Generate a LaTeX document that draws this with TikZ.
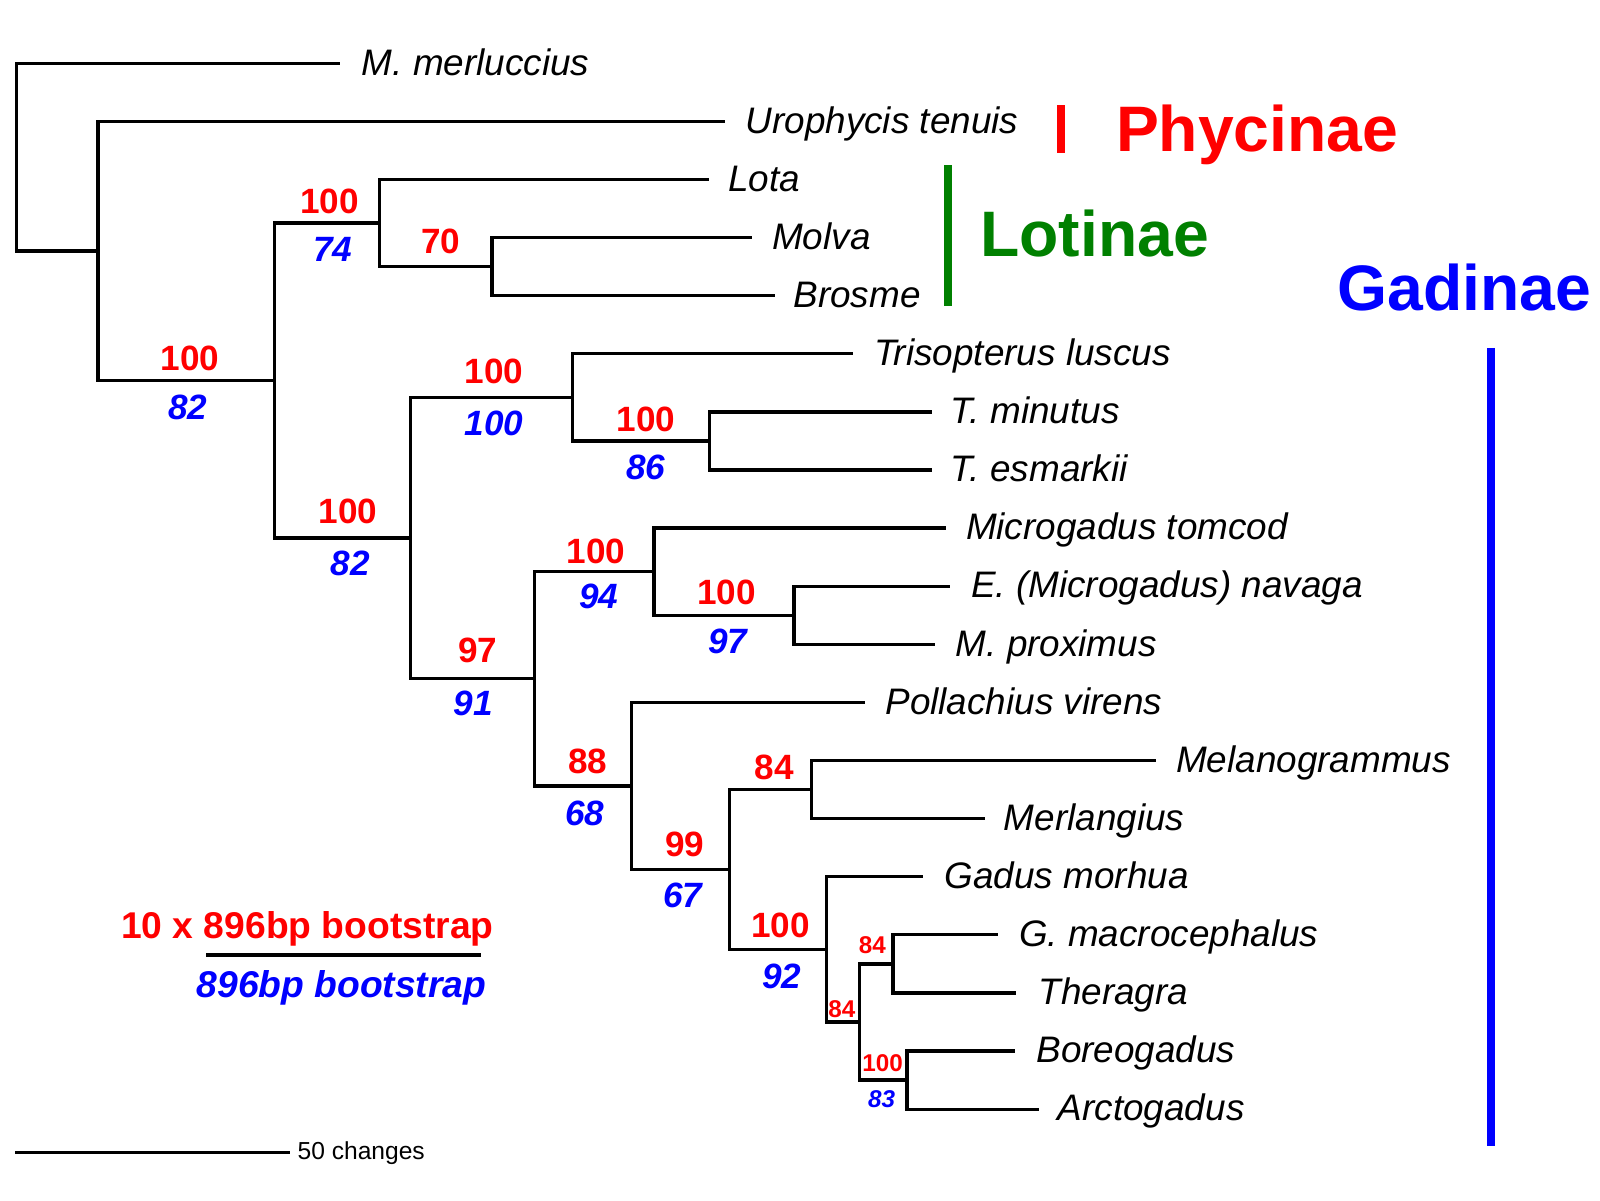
\documentclass[tikz,border=0pt]{standalone}
\usepackage{fontspec}
\setmainfont{Liberation Sans}
\usetikzlibrary{calc}
\begin{document}
\begin{tikzpicture}[x=0.010204cm,y=-0.010204cm,
  br/.style={line width=0.95pt},
  taxon/.style={anchor=base west, inner sep=0pt, font=\fontsize{10.5}{12}\selectfont\itshape},
  rb/.style={text=red, inner sep=0pt, font=\fontsize{10}{12}\selectfont\bfseries},
  bb/.style={text=blue, inner sep=0pt, font=\fontsize{10}{12}\selectfont\bfseries\itshape},
  rbs/.style={text=red, inner sep=0pt, font=\fontsize{6.9}{8}\selectfont\bfseries},
  bbs/.style={text=blue, inner sep=0pt, font=\fontsize{6.9}{8}\selectfont\bfseries\itshape},
  grp/.style={anchor=base west, inner sep=0pt, font=\fontsize{18.3}{22}\selectfont\bfseries},
  gbar/.style={line width=2.4pt}
]
\fill[white] (0,0) rectangle (1568,1176);
\useasboundingbox (0,0) rectangle (1568,1176);

% internal nodes
\coordinate (R) at (16,154);
\coordinate (A) at (96,246);
\coordinate (B) at (269,373);
\coordinate (C) at (372,218.6);
\coordinate (D) at (482,261.3);
\coordinate (E) at (402,527.3);
\coordinate (F) at (561,389.4);
\coordinate (G) at (695,432.1);
\coordinate (H) at (524,665.2);
\coordinate (I) at (641,560.2);
\coordinate (J) at (778,603);
\coordinate (K) at (619,770.2);
\coordinate (L) at (715,852.1);
\coordinate (M) at (795,773.8);
\coordinate (N) at (810,930.4);
\coordinate (O) at (842,1001.5);
\coordinate (P) at (875,944.6);
\coordinate (Q) at (889,1058.5);

% tips
\coordinate (t1) at (333,62);
\coordinate (t2) at (710,118.9);
\coordinate (t3) at (695,175.9);
\coordinate (t4) at (737,232.8);
\coordinate (t5) at (759,289.8);
\coordinate (t6) at (836,346.7);
\coordinate (t7) at (913,403.6);
\coordinate (t8) at (913,460.6);
\coordinate (t9) at (927,517.5);
\coordinate (t10) at (931,574.5);
\coordinate (t11) at (916,631.4);
\coordinate (t12) at (848,688.3);
\coordinate (t13) at (1133,745.3);
\coordinate (t14) at (965,802.2);
\coordinate (t15) at (905,859.2);
\coordinate (t16) at (978,916.1);
\coordinate (t17) at (996,973);
\coordinate (t18) at (995,1030);
\coordinate (t19) at (1018,1087);

% branches
\foreach \p/\c in {R/t1,R/A,A/t2,A/B,B/C,B/E,C/t3,C/D,D/t4,D/t5,E/F,E/H,F/t6,F/G,G/t7,G/t8,
  H/I,H/K,I/t9,I/J,J/t10,J/t11,K/t12,K/L,L/M,L/N,M/t13,M/t14,N/t15,N/O,O/P,O/Q,P/t16,P/t17,Q/t18,Q/t19}
  \draw[br] (\p) |- (\c);

% taxon labels
\node[taxon] (n1) at ($(t1)+(21,11.5)$) {M. merluccius};
\node[taxon] (n2) at ($(t2)+(20,11.5)$) {Urophycis tenuis};
\node[taxon] (n3) at ($(t3)+(18,11.5)$) {Lota};
\node[taxon] (n4) at ($(t4)+(19,11.5)$) {Molva};
\node[taxon] (n5) at ($(t5)+(18,11.5)$) {Brosme};
\node[taxon] (n6) at ($(t6)+(20,11.5)$) {Trisopterus luscus};
\node[taxon] (n7) at ($(t7)+(18,11.5)$) {T. minutus};
\node[taxon] (n8) at ($(t8)+(18,11.5)$) {T. esmarkii};
\node[taxon] (n9) at ($(t9)+(19,11.5)$) {Microgadus tomcod};
\node[taxon] (n10) at ($(t10)+(20,11.5)$) {E. (Microgadus) navaga};
\node[taxon] (n11) at ($(t11)+(20,11.5)$) {M. proximus};
\node[taxon] (n12) at ($(t12)+(19,11.5)$) {Pollachius virens};
\node[taxon] (n13) at ($(t13)+(19,11.5)$) {Melanogrammus};
\node[taxon] (n14) at ($(t14)+(18,11.5)$) {Merlangius};
\node[taxon] (n15) at ($(t15)+(20,11.5)$) {Gadus morhua};
\node[taxon] (n16) at ($(t16)+(20,11.5)$) {G. macrocephalus};
\node[taxon] (n17) at ($(t17)+(21,11.5)$) {Theragra};
\node[taxon] (n18) at ($(t18)+(20,11.5)$) {Boreogadus};
\node[taxon] (n19) at ($(t19)+(18,11.5)$) {Arctogadus};

% bootstrap values
\node[rb] (rB) at (186,351) {100};  \node[bb] (bB) at (184,399) {82};
\node[rb] (rC) at (323,197) {100};  \node[bb] (bC) at (326,244) {74};
\node[rb] (rD) at (432,237) {70};
\node[rb] (rE) at (341,501) {100};  \node[bb] (bE) at (343,552) {82};
\node[rb] (rF) at (484,364) {100};  \node[bb] (bF) at (484,415) {100};
\node[rb] (rG) at (633,411) {100};  \node[bb] (bG) at (633,458) {86};
\node[rb] (rH) at (468,637) {97};   \node[bb] (bH) at (464,689) {91};
\node[rb] (rI) at (584,540) {100};  \node[bb] (bI) at (587,584) {94};
\node[rb] (rJ) at (712,581) {100};  \node[bb] (bJ) at (713,629) {97};
\node[rb] (rK) at (576,746) {88};   \node[bb] (bK) at (573,797) {68};
\node[rb] (rL) at (671,827) {99};   \node[bb] (bL) at (669,877) {67};
\node[rb] (rM) at (759,752) {84};
\node[rb] (rN) at (765,907) {100};  \node[bb] (bN) at (766,957) {92};
\node[rbs] (rO) at (825,988.5) {84};
\node[rbs] (rP) at (855,926) {84};
\node[rbs] (rQ) at (865,1042) {100}; \node[bbs] (bQ) at (864,1077) {83};

% group bars and names
\draw[gbar, red] (1040,103) -- (1040,150);
\node[grp, text=red] (phy) at (1093,148.6) {Phycinae};
\draw[gbar, green!50!black] (929,162) -- (929,300);
\node[grp, text=green!50!black] (lot) at (960,251) {Lotinae};
\draw[gbar, blue] (1461,341) -- (1461,1123);
\node[grp, text=blue] (gad) at (1310,304) {Gadinae};

% legend
\node[anchor=base west, inner sep=0pt, text=red, font=\fontsize{10.6}{12}\selectfont\bfseries] (leg1) at (118,920) {10 x 896bp bootstrap};
\draw[br] (202,936) -- (471,936);
\node[anchor=base west, inner sep=0pt, text=blue, font=\fontsize{10.6}{12}\selectfont\bfseries\itshape] (leg2) at (192,978) {896bp bootstrap};

% scale bar
\coordinate (s0) at (15,1129.6);
\coordinate (s1) at (284,1129.6);
\draw[br] (s0) -- (s1);
\node[anchor=base west, inner sep=0pt, font=\fontsize{7}{8}\selectfont] (sl) at (291,1136) {50 changes};
\end{tikzpicture}
\end{document}
